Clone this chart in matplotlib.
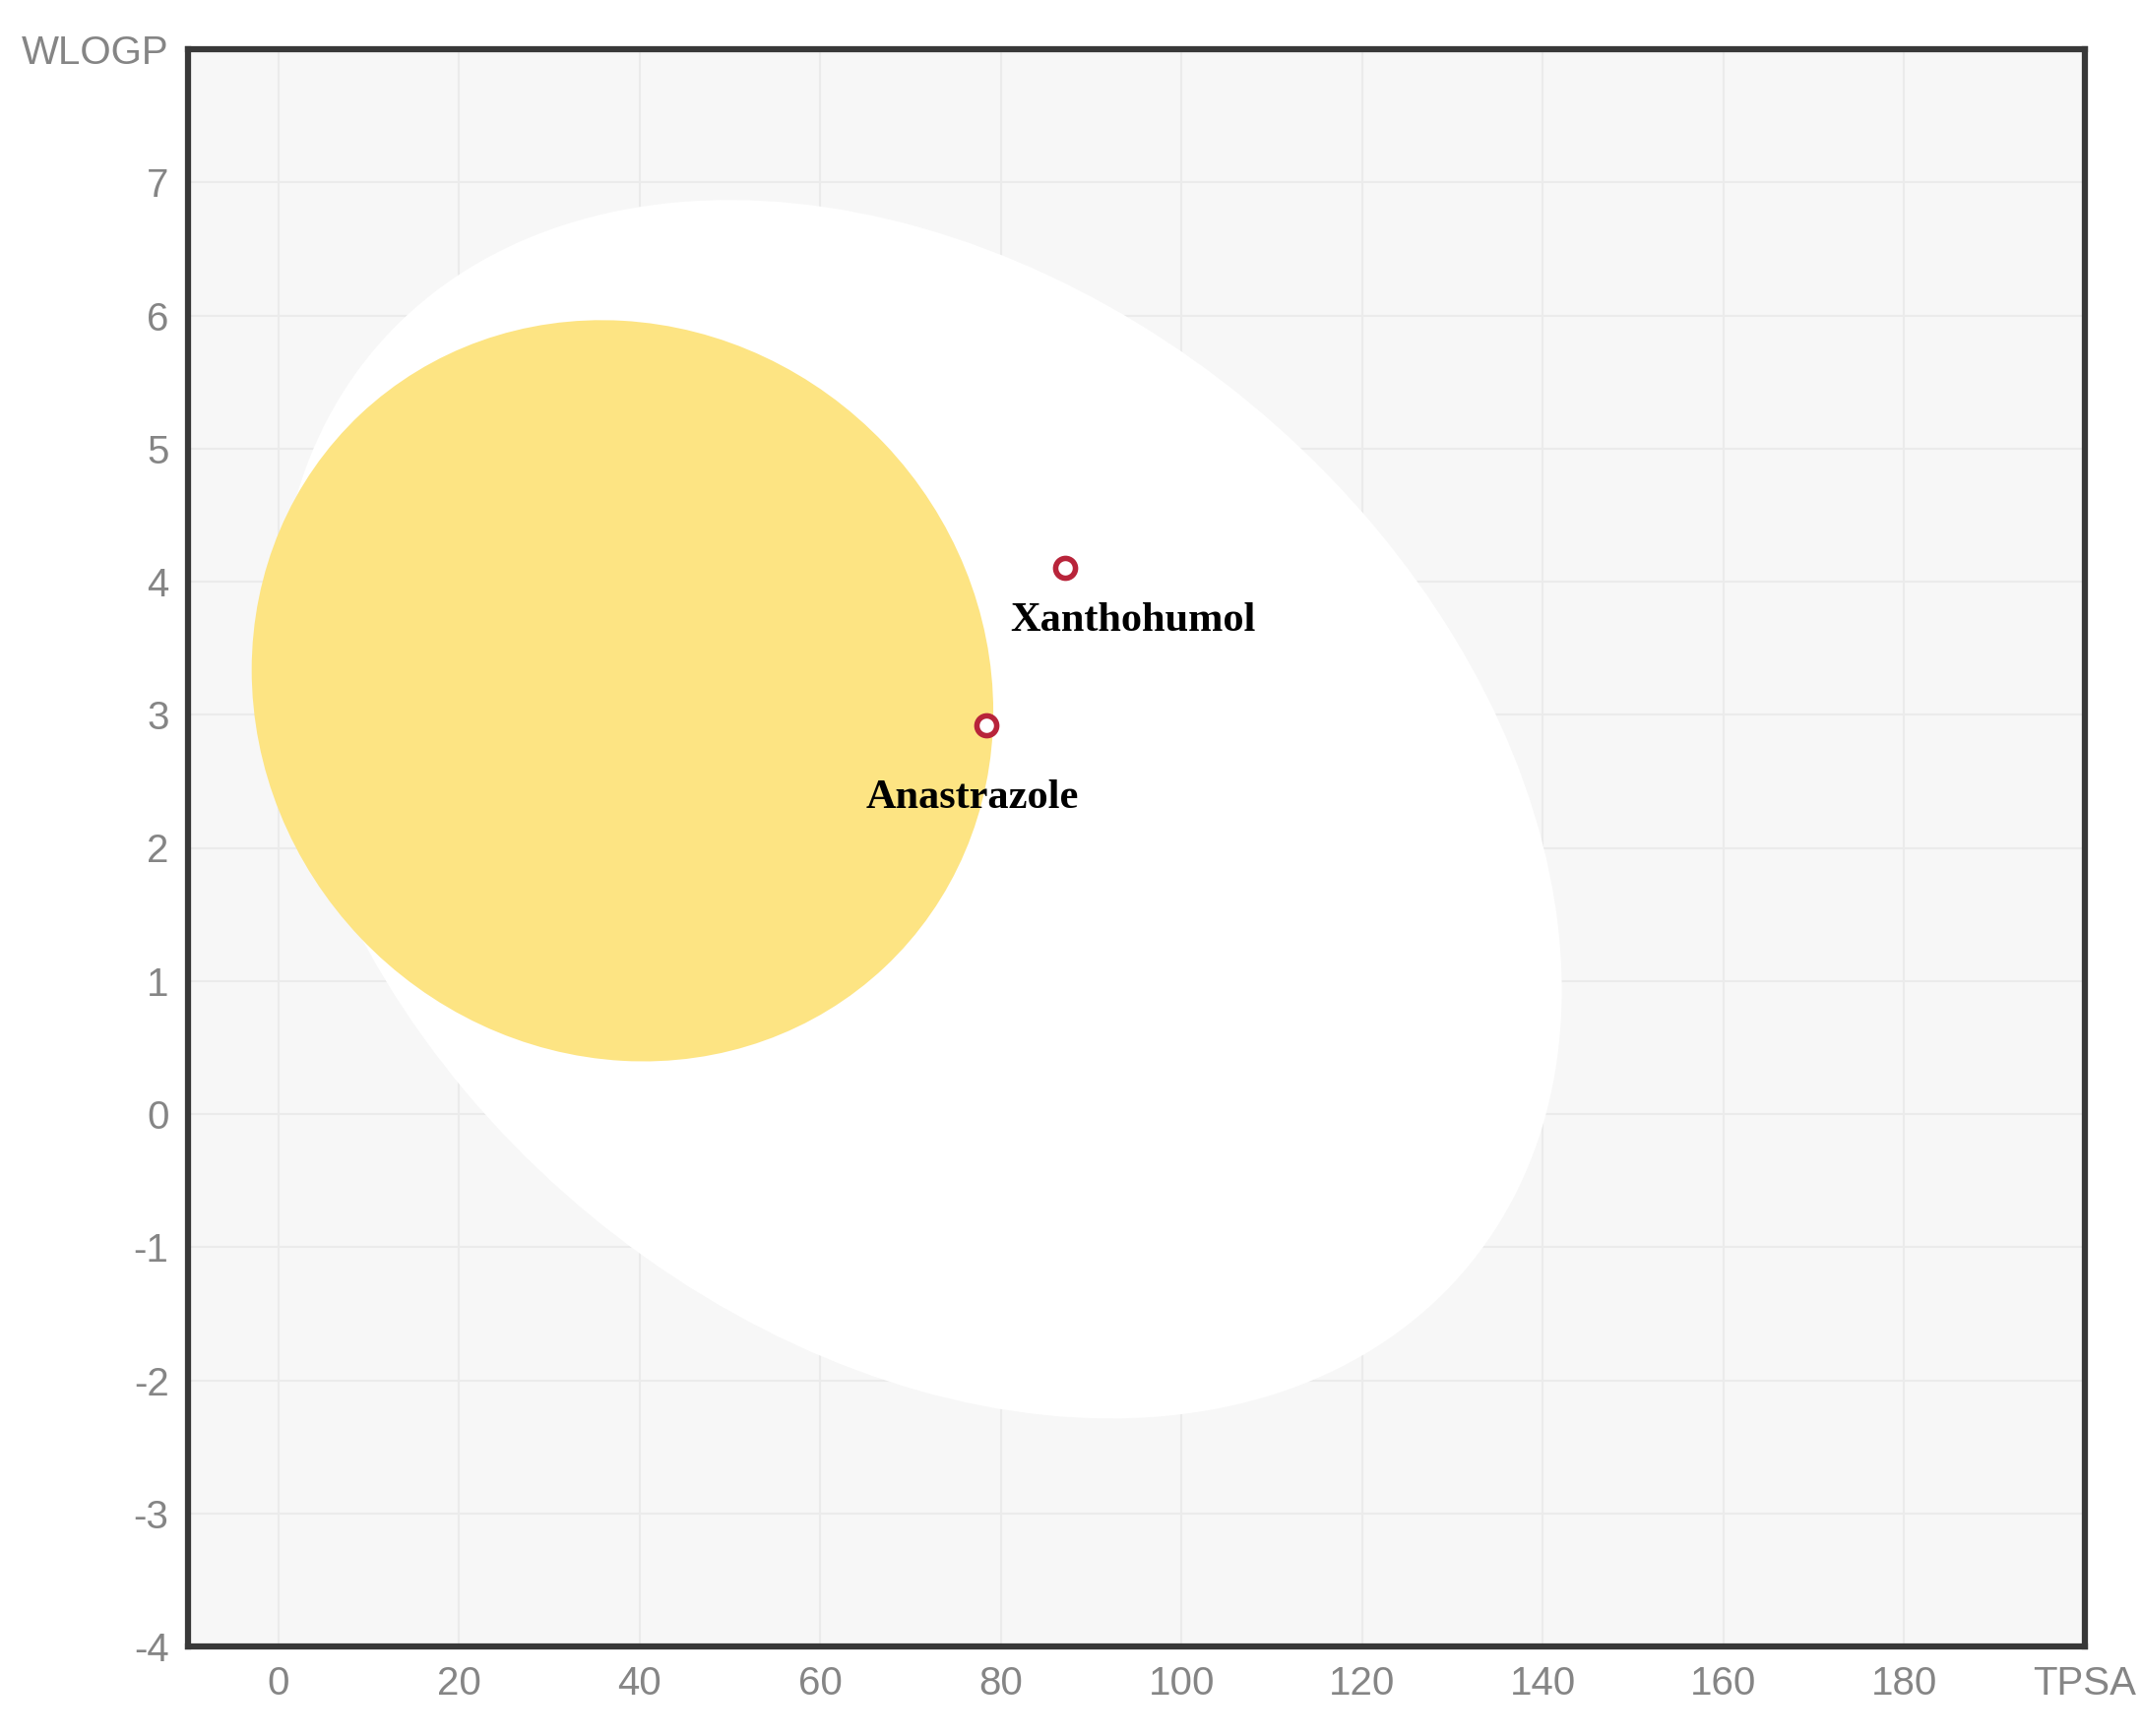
import matplotlib.pyplot as plt
from matplotlib.patches import Ellipse

# molecules (TPSA, WLOGP)
names = ['Xanthohumol', 'Anastrazole']
tpsa = [87.1, 78.4]
wlogp = [4.10, 2.92]
label_offsets = [(69, -64), (-14, -84)]  # pixels, label centre / baseline

# egg regions: centre, full axes, angle (deg, data space)
white_center = (71.05, 2.29)
white_size = (142.1, 8.74)
white_angle = -1.1
yolk_center = (38.1, 3.18)
yolk_size = (82.1, 5.56)
yolk_angle = -0.22

x_ticks = list(range(0, 201, 20))
x_labels = [str(v) for v in x_ticks[:-1]] + ['TPSA']
y_ticks = list(range(-4, 9))
y_labels = [str(v) for v in y_ticks[:-1]] + ['WLOGP']

fig = plt.figure(figsize=(21.75, 17.64), dpi=100)
ax = fig.add_axes([191 / 2175, 1 - 1673 / 1764, (2118 - 191) / 2175, (1673 - 50) / 1764])
ax.set_facecolor('#f7f7f7')
ax.set_xlim(-10, 200)
ax.set_ylim(-4, 8)

ax.set_xticks(x_ticks)
ax.set_xticklabels(x_labels)
ax.set_yticks(y_ticks)
ax.set_yticklabels(y_labels)
ax.tick_params(length=0, pad=14, labelsize=29, labelcolor='#858585')
for lab in ax.get_xticklabels() + ax.get_yticklabels():
    lab.set_family('Liberation Sans')
ax.grid(True, color='#ebebeb', linewidth=1.5, zorder=0)
ax.set_axisbelow(True)

for s in ax.spines.values():
    s.set_color('#383838')
    s.set_linewidth(4.5)

ax.add_patch(Ellipse(white_center, white_size[0], white_size[1], angle=white_angle,
                     facecolor='white', edgecolor='none', zorder=1))
ax.add_patch(Ellipse(yolk_center, yolk_size[0], yolk_size[1], angle=yolk_angle,
                     facecolor='#fde483', edgecolor='none', zorder=2))

ax.plot(tpsa, wlogp, 'o', ms=14.5, mew=4, mfc='white', mec='#b8243a',
        linestyle='none', zorder=4)

for n, x, y, off in zip(names, tpsa, wlogp, label_offsets):
    ax.annotate(n, (x, y), xytext=off, textcoords='offset pixels',
                ha='center', va='baseline', fontsize=30.5, fontweight='bold',
                family='Liberation Serif', color='black', zorder=5)

fig.savefig('out.png', dpi=100)
